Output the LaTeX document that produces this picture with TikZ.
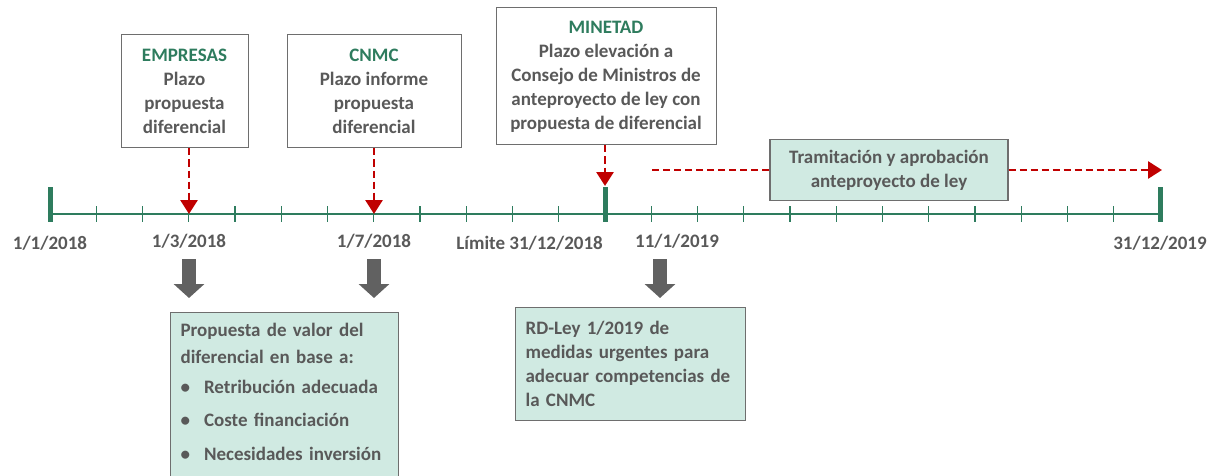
\documentclass[tikz,border=0pt]{standalone}
\usepackage{fontspec}
\setmainfont{Carlito}
\usetikzlibrary{arrows.meta}
\definecolor{verde}{RGB}{46,124,94}
\definecolor{gristxt}{RGB}{89,89,89}
\definecolor{rojo}{RGB}{192,0,0}
\definecolor{menta}{RGB}{208,234,226}
\definecolor{borde}{RGB}{110,110,110}
\tikzset{
  plazo/.style={draw=borde, fill=white, line width=1pt, align=center, inner sep=0pt, text=gristxt},
  nota/.style={draw=borde, fill=menta, line width=1.2pt, align=left, inner sep=10pt, text=gristxt},
  fecha/.style={text=gristxt, inner sep=0pt},
  aviso/.style={rojo, line width=2.8pt, dash pattern=on 7pt off 4pt, -{Triangle[length=14pt,width=17pt]}},
  bloque/.style={gristxt!95, line width=14pt, -{Triangle[length=14pt,width=30pt]}},
  eje/.style={verde, line width=2pt},
}
\newcommand{\ente}[1]{{\color{verde}#1}}
\begin{document}
\begin{tikzpicture}[x=1pt,y=-1pt, every node/.style={font=\fontsize{19}{24}\selectfont\bfseries}]
\useasboundingbox (0,0) rectangle (1210,476);
% linea de tiempo
\draw[eje] (50,214) -- (1160,214);
\foreach \m in {1,...,11,13,14,...,23}
  \draw[eje, line width=1.4pt] (50+\m*46.25,206) -- ++(0,16);
\foreach \m in {0,12,24}
  \draw[verde, line width=5pt] (50+\m*46.25,187) -- ++(0,35);
\coordinate (marzo) at (189,214);
\coordinate (julio) at (374,214);
\coordinate (fin18) at (605,186);
\coordinate (ini19) at (652,170);
\coordinate (fin19) at (1162,170);
% fechas
\node[fecha] (l1) at (50,243) {1/1/2018};
\node[fecha] (l3) at (189,241) {1/3/2018};
\node[fecha] (l7) at (374,241) {1/7/2018};
\node[fecha, anchor=east] (l12) at (603,243) {Límite 31/12/2018};
\node[fecha] (l19) at (677,241) {11/1/2019};
\node[fecha] (l24) at (1160,243) {31/12/2019};
% plazos
\node[plazo, minimum width=127pt, minimum height=113pt] (empresas) at (184.5,91.5)
  {\ente{EMPRESAS}\\Plazo\\propuesta\\diferencial};
\node[plazo, minimum width=174pt, minimum height=113pt] (cnmc) at (374,91.5)
  {\ente{CNMC}\\Plazo informe\\propuesta\\diferencial};
\node[plazo, minimum width=220pt, minimum height=137pt] (minetad) at (606,76.5)
  {\ente{MINETAD}\\Plazo elevación a\\Consejo de Ministros de\\anteproyecto de ley con\\propuesta de diferencial};
\node[nota, align=center, minimum width=238pt, minimum height=60pt] (tram) at (889,170)
  {Tramitación y aprobación\\anteproyecto de ley};
\node[nota, anchor=north west, text width=210pt, inner xsep=10pt, minimum height=113pt] (rdley) at (515,307)
  {RD-Ley 1/2019 de\\medidas urgentes para\\adecuar competencias de\\la CNMC};
\node[nota, anchor=north west, text width=208pt, inner ysep=11pt] (prop) at (170,312)
  {Propuesta de valor del\\[3pt]diferencial en base a:\\[6pt]
   \textbullet\hspace{14pt}Retribución adecuada\\[9pt]
   \textbullet\hspace{14pt}Coste financiación\\[10pt]
   \textbullet\hspace{14pt}Necesidades inversión\rule[-30pt]{0pt}{1pt}};
% flechas
\draw[aviso] (empresas.south -| marzo) -- (marzo);
\draw[aviso] (cnmc.south -| julio) -- (julio);
\draw[aviso] (minetad.south -| fin18) -- (fin18);
\draw[aviso, -] (ini19) -- (tram.west);
\draw[aviso] (tram.east) -- (fin19);
\draw[bloque] ([yshift=-11pt]l3.south) -- ([yshift=14pt]prop.north -| l3);
\draw[bloque] ([yshift=-11pt]l7.south) -- ([yshift=14pt]prop.north -| l7);
\draw[bloque] ([yshift=-11pt]l19.south -| 660,0) -- ([yshift=9pt]rdley.north -| 660,0);
\end{tikzpicture}
\end{document}
